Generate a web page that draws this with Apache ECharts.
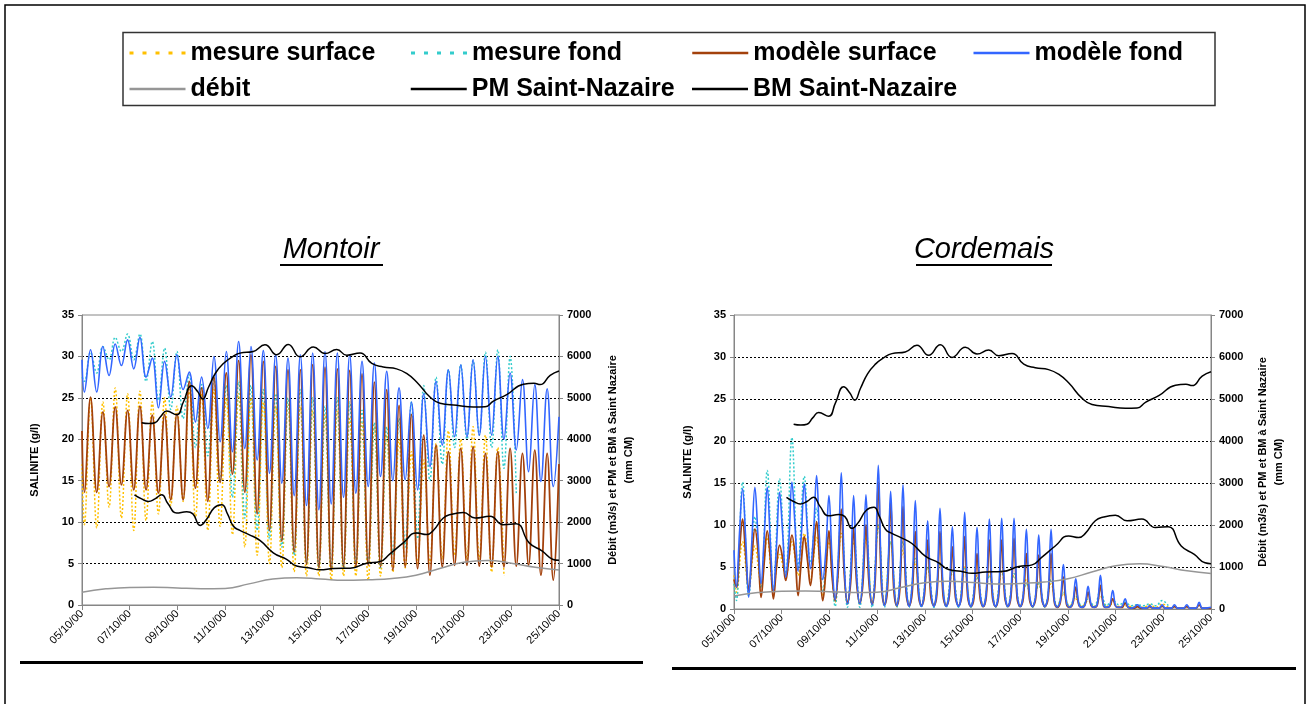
<!DOCTYPE html>
<html>
<head>
<meta charset="utf-8">
<title>Salinité Montoir / Cordemais</title>
<script src="https://cdn.jsdelivr.net/npm/echarts@6/dist/echarts.min.js"></script>
<style>
  html, body { margin: 0; padding: 0; background: #fff; }
  #chart { width: 1310px; height: 704px; }
</style>
</head>
<body>
<div id="chart"></div>
<script>
var FONT = '"Liberation Sans", Arial, sans-serif';

var dateLabels = ['05/10/00', '07/10/00', '09/10/00', '11/10/00', '13/10/00', '15/10/00',
                  '17/10/00', '19/10/00', '21/10/00', '23/10/00', '25/10/00'];

// salinity series are read at every tide extreme (half tide step), first value is day 0, last is day 20
var TIDE_START = 0.10, HALF_TIDE = 0.2587, LAST_DAY = 20;

// ---- Montoir (g/l), one value per half tide
var montoirMesureSurface = [17.0,
  9.7, 25.0, 9.3, 24.5, 11.8, 26.2, 10.5, 25.5,
  9.0, 25.8, 10.2, 24.5, 11.0, 25.0, 12.0, 24.0,
  12.5, 26.0, 10.5, 25.5, 9.0, 26.0, 9.5, 25.0,
  8.5, 25.5, 7.0, 25.0, 6.0, 24.5, 5.0, 24.0,
  4.5, 24.5, 4.0, 24.0, 3.5, 23.5, 3.5, 23.0,
  3.0, 23.5, 3.5, 22.5, 3.5, 22.0, 3.0, 21.5,
  3.5, 20.5, 4.0, 20.0, 4.5, 18.5, 5.0, 17.5,
  5.0, 19.5, 5.5, 21.0, 6.0, 20.0, 5.5, 21.5,
  5.5, 20.5, 4.0, 19.0, 3.5, null, null, null,
  null, null, null, null, null,
  null];
var montoirMesureFond = [27.5,
  27.0, 30.5, 28.0, 31.2, 29.6, 32.3, 30.6, 32.7,
  29.6, 32.7, 27.0, 31.8, 24.7, 31.0, 23.6, 30.6,
  22.5, 27.8, 19.0, 26.6, 18.0, 27.5, 15.0, 26.5,
  13.0, 27.0, 10.5, 26.5, 9.0, 26.0, 8.0, 25.5,
  7.0, 25.0, 6.0, 26.0, 5.0, 25.0, 4.5, 24.0,
  4.5, 25.0, 4.5, 24.5, 5.0, 23.5, 5.0, 22.0,
  4.5, 21.5, 6.0, 22.5, 7.0, 24.5, 8.0, 26.5,
  15.0, 27.5, 17.0, 28.4, 19.0, 29.0, 20.0, 29.5,
  20.5, 30.5, 19.0, 30.8, 16.5, 30.0, 13.5, null,
  null, null, null, null, null,
  null];
var montoirModeleSurface = [21.0,
  13.6, 25.1, 13.6, 23.3, 14.3, 23.9, 14.5, 23.5,
  13.9, 24.0, 13.9, 22.9, 13.5, 23.0, 12.7, 23.1,
  12.7, 27.0, 14.1, 26.2, 12.5, 27.5, 14.8, 28.0,
  15.8, 29.5, 13.6, 30.2, 11.0, 29.4, 9.0, 28.8,
  7.7, 28.4, 6.4, 28.4, 4.9, 29.0, 4.5, 28.7,
  4.2, 28.5, 4.6, 28.3, 4.6, 27.9, 4.8, 26.9,
  4.6, 26.0, 4.2, 24.1, 4.6, 23.0, 4.4, 20.5,
  3.6, 19.3, 4.6, 18.5, 4.8, 18.9, 4.8, 19.1,
  4.7, 18.3, 4.6, 18.5, 4.6, 18.9, 4.7, 18.3,
  4.8, 18.7, 3.6, 18.3, 3.0,
  17.0];
var montoirModeleFond = [29.6,
  25.7, 30.8, 25.7, 31.2, 27.7, 31.5, 28.9, 32.0,
  28.5, 32.3, 27.5, 29.8, 23.8, 29.4, 25.1, 30.2,
  26.0, 28.1, 22.1, 27.5, 21.3, 30.0, 19.7, 30.6,
  18.5, 31.8, 18.9, 31.2, 17.5, 30.7, 15.9, 30.2,
  14.7, 29.8, 13.2, 30.2, 12.0, 30.4, 11.5, 30.6,
  12.2, 30.4, 13.0, 30.2, 13.5, 29.4, 14.3, 29.2,
  15.5, 28.2, 15.0, 26.2, 15.1, 24.5, 13.9, 25.5,
  16.7, 27.0, 19.3, 28.4, 20.3, 29.0, 20.3, 29.6,
  20.5, 30.0, 20.5, 30.0, 20.0, 28.0, 18.7, 27.2,
  16.1, 26.6, 14.9, 26.1, 14.3,
  22.7];

// ---- Cordemais (g/l); modele series read at every quarter tide (trough, rise, peak, fall)
var cordemaisMesureSurface = [4.0,
  2.0, 8.0, 2.5, 7.5, 3.0, 8.5, 2.5, 6.5,
  4.0, 8.0, 4.0, 9.0, 3.5, 8.5, 1.5, 8.0,
  0.8, 9.0, 0.6, 8.0, 0.5, 8.5, 0.5, 10.0,
  0.4, 8.0, 0.3, 7.0, 0.3, 5.5, 0.3, 5.0,
  0.3, 5.5, 0.3, 4.5, 0.3, 5.0, 0.3, 4.0,
  0.3, 4.5, 0.3, 4.5, 0.3, 4.0, 0.3, 3.5,
  0.3, 3.0, 0.3, 3.0, 0.3, 1.8, 0.3, 1.2,
  0.3, 1.0, 0.3, 1.5, 0.3, 0.6, 0.3, 0.4,
  0.3, 0.3, 0.2, 0.5, 0.2, 0.6, 0.2, null,
  null, null, null, null, null,
  null];
var cordemaisMesureFond = [3.0,
  1.0, 15.1, 1.5, 11.0, 2.5, 16.5, 2.0, 15.5,
  4.0, 20.4, 5.0, 15.8, 5.5, 12.0, 2.0, 9.0,
  0.3, 11.0, 0.2, 9.0, 0.2, 9.5, 0.2, 10.0,
  0.2, 8.0, 0.2, 8.0, 0.2, 6.0, 0.2, 5.0,
  0.2, 5.5, 0.2, 4.5, 0.2, 4.8, 0.2, 3.8,
  0.2, 4.0, 0.2, 4.5, 0.2, 4.2, 0.2, 3.0,
  0.2, 3.0, 0.2, 3.5, 0.2, 2.0, 0.3, 1.5,
  0.3, 1.2, 0.3, 2.2, 0.4, 1.0, 0.5, 0.8,
  0.4, 0.5, 0.4, 0.6, 0.4, 1.0, 0.4, null,
  null, null, null, null, null,
  null];
var cordemaisModeleSurface = [3.5,
  2.6, 7.0, 10.7, 6.5,   2.2, 6.0, 9.5, 7.0,   1.4, 5.5, 9.3, 6.0,   1.2, 5.0, 7.6, 6.0,
  3.4, 6.0, 8.8, 6.5,    1.6, 5.5, 8.6, 6.0,   2.8, 6.5, 10.4, 5.5,  1.0, 4.5, 9.3, 4.0,
  1.0, 4.5, 11.9, 4.0,   0.7, 3.0, 9.5, 3.0,   0.7, 3.0, 10.0, 3.0,  0.6, 3.5, 15.1, 3.0,
  0.5, 2.5, 12.8, 2.5,   0.4, 2.5, 12.2, 2.0,  0.4, 2.0, 9.2, 1.8,   0.4, 1.8, 8.2, 1.6,
  0.4, 1.8, 9.2, 1.6,    0.4, 1.5, 7.4, 1.4,   0.4, 1.5, 8.6, 1.4,   0.3, 1.3, 6.6, 1.3,
  0.3, 1.5, 8.2, 1.4,    0.3, 1.5, 8.2, 1.4,   0.3, 1.5, 8.4, 1.3,   0.3, 1.3, 6.6, 1.2,
  0.3, 1.2, 6.4, 1.2,    0.3, 1.2, 6.6, 1.0,   0.2, 0.8, 3.8, 0.6,   0.2, 0.6, 2.6, 0.5,
  0.2, 0.5, 2.0, 0.4,    0.2, 0.5, 2.8, 0.4,   0.2, 0.3, 1.2, 0.3,   0.2, 0.2, 0.7, 0.2,
  0.1, 0.1, 0.3, 0.1,    0.1, 0.1, 0.3, 0.1,   0.1, 0.1, 0.35, 0.1,  0.1, 0.1, 0.3, 0.1,
  0.1, 0.1, 0.3, 0.1,    0.1, 0.1, 0.5, 0.1,
  0.1,
  0.1];
var cordemaisModeleFond = [7.0,
  2.6, 9.0, 14.3, 8.5,   1.4, 8.0, 14.5, 8.7,  3.0, 8.5, 14.5, 8.0,  2.2, 7.5, 13.9, 9.0,
  3.8, 8.0, 15.1, 10.0,  4.5, 8.5, 14.9, 9.5,  4.8, 9.0, 15.9, 8.0,  3.5, 7.0, 13.5, 6.0,
  1.1, 6.0, 16.2, 5.0,   0.6, 4.0, 13.5, 4.0,  0.6, 4.0, 13.6, 4.0,  0.5, 4.5, 17.1, 4.0,
  0.4, 3.5, 14.0, 3.5,   0.4, 3.5, 14.8, 3.0,  0.3, 3.0, 12.9, 2.5,  0.3, 2.5, 10.5, 2.5,
  0.3, 2.5, 12.0, 2.5,   0.3, 2.0, 9.8, 2.0,   0.3, 2.0, 11.5, 2.0,  0.3, 2.0, 9.7, 2.0,
  0.3, 2.0, 10.7, 2.0,   0.3, 2.0, 10.8, 2.0,  0.3, 2.0, 10.8, 1.8,  0.3, 1.8, 9.5, 1.8,
  0.3, 1.6, 8.8, 1.6,    0.3, 1.6, 9.5, 1.2,   0.2, 1.0, 5.3, 0.8,   0.2, 0.7, 3.6, 0.6,
  0.2, 0.5, 2.7, 0.5,    0.2, 0.6, 4.0, 0.5,   0.2, 0.4, 2.2, 0.3,   0.2, 0.3, 1.2, 0.2,
  0.1, 0.2, 0.5, 0.2,    0.1, 0.1, 0.4, 0.1,   0.1, 0.1, 0.5, 0.1,   0.1, 0.1, 0.5, 0.1,
  0.1, 0.1, 0.5, 0.1,    0.1, 0.1, 0.8, 0.1,
  0.1,
  0.2];

// ---- right axis: debit (m3/s, one value per day from 05/10) and Saint-Nazaire tides (mm CM)
var debit = [310, 390, 425, 430, 410, 395, 400, 510, 625, 660, 630,
             595, 610, 640, 720, 880, 1030, 1075, 1010, 910, 845];
var pmDays = [2.5, 2.8, 3.06, 3.3, 3.55, 3.97, 4.25, 4.6, 4.85, 5.06, 5.3, 5.6, 5.93, 6.3,
              6.62, 7.18, 7.67, 8.16, 8.65, 9.14, 9.7, 10.19, 10.68, 11.1, 11.66, 12.15,
              12.63, 13.19, 13.61, 14.03, 14.59, 15.01, 15.71, 16.41, 16.9, 17.25, 17.81,
              18.51, 18.95, 19.21, 19.63, 20.0];
var pmLevels = [4400, 4380, 4400, 4550, 4680, 4590, 4900, 5290, 5150, 4970, 5250, 5600, 5830, 5990,
                6080, 6120, 6280, 6040, 6290, 5990, 6230, 6070, 6165, 6030, 6085, 5830,
                5745, 5700, 5590, 5385, 5020, 4870, 4820, 4780, 4785, 4920, 5080,
                5330, 5350, 5320, 5545, 5650];
var bmDays = [2.2, 2.5, 2.78, 3.06, 3.34, 3.6, 3.97, 4.39, 4.65, 4.95, 5.2, 5.55, 5.86, 6.1,
              6.35, 6.62, 7.0, 7.46, 8.02, 8.58, 9.0, 9.5, 9.98, 10.54, 11.24, 11.94, 12.5,
              12.9, 13.47, 14.03, 14.45, 14.73, 15.15, 15.5, 15.99, 16.48, 17.1, 17.67, 18.2,
              18.75, 19.3, 19.75, 20.0];
var bmLevels = [2660, 2560, 2500, 2560, 2660, 2450, 2220, 2250, 2200, 1920, 2050, 2350, 2420, 2200,
                1900, 1800, 1700, 1560, 1260, 1100, 940, 900, 850, 880, 890, 1010, 1050,
                1230, 1500, 1740, 1700, 1800, 2100, 2190, 2230, 2100, 2140, 1940, 1960,
                1500, 1300, 1100, 1080];

var colors = {
  mesureSurface: '#ffc000',
  mesureFond: '#33cccc',
  modeleSurface: '#a3410c',
  modeleFond: '#3366ff',
  debit: '#969696',
  maree: '#000000'
};

function tidePairs(values, step) {
  var out = [], n = values.length;
  for (var i = 0; i < n; i++) {
    var t = i === 0 ? 0 : (i === n - 1 ? LAST_DAY : TIDE_START + (i - 1) * step);
    out.push([t, values[i]]);
  }
  return out;
}

function zipPairs(days, values) {
  return days.map(function(d, i) { return [d, values[i]]; });
}

function lineSeries(name, grid, right, data, lineStyle, smooth) {
  return {
    type: 'line',
    name: name,
    xAxisIndex: grid,
    yAxisIndex: grid * 2 + (right ? 1 : 0),
    data: data,
    symbol: 'none',
    smooth: smooth,
    itemStyle: { color: lineStyle.color },
    lineStyle: lineStyle,
    emphasis: { disabled: true }
  };
}

function gridSeries(grid, mSurf, mFond, modSurf, modFond, modStep) {
  return [
    lineSeries('mesure surface', grid, false, tidePairs(mSurf, HALF_TIDE),
               { color: colors.mesureSurface, width: 1.5, type: [2, 2] }, 0.4),
    lineSeries('mesure fond', grid, false, tidePairs(mFond, HALF_TIDE),
               { color: colors.mesureFond, width: 1.5, type: [2, 2] }, 0.4),
    lineSeries('modèle surface', grid, false, tidePairs(modSurf, modStep),
               { color: colors.modeleSurface, width: 1.8 }, 0.4),
    lineSeries('modèle fond', grid, false, tidePairs(modFond, modStep),
               { color: colors.modeleFond, width: 1.6 }, 0.4),
    lineSeries('débit', grid, true, debit.map(function(v, d) { return [d, v]; }),
               { color: colors.debit, width: 1.5 }, true),
    lineSeries('PM Saint-Nazaire', grid, true, zipPairs(pmDays, pmLevels),
               { color: colors.maree, width: 1.5 }, true),
    lineSeries('BM Saint-Nazaire', grid, true, zipPairs(bmDays, bmLevels),
               { color: colors.maree, width: 1.5 }, true)
  ];
}

var axisGray = '#868686';
var tickFont = { fontFamily: FONT, fontWeight: 'bold', fontSize: 11, color: '#000' };

function xAxis(grid) {
  return {
    type: 'value', gridIndex: grid, min: 0, max: 20, interval: 2,
    axisLine: { show: true, lineStyle: { color: axisGray } },
    axisTick: { show: true, length: 5, lineStyle: { color: axisGray } },
    axisLabel: {
      rotate: 45, margin: 7, fontFamily: FONT, fontSize: 11, color: '#000',
      formatter: function(v) { return dateLabels[Math.round(v / 2)]; }
    },
    splitLine: { show: false }
  };
}

function leftAxis(grid, gap) {
  return {
    type: 'value', gridIndex: grid, position: 'left', min: 0, max: 35, interval: 5,
    name: 'SALINITE (g/l)', nameLocation: 'middle', nameGap: gap,
    nameTextStyle: tickFont,
    axisLine: { show: true, lineStyle: { color: axisGray } },
    axisTick: { show: true, length: 4, lineStyle: { color: axisGray } },
    axisLabel: Object.assign({ margin: 8 }, tickFont),
    splitLine: {
      show: true, showMinLine: false, showMaxLine: false,
      lineStyle: { color: '#000', width: 1, type: [2, 2] }
    }
  };
}

function rightAxis(grid, gap) {
  return {
    type: 'value', gridIndex: grid, position: 'right', min: 0, max: 7000, interval: 1000,
    name: 'Débit (m3/s) et PM et BM à Saint Nazaire\n(mm CM)',
    nameLocation: 'middle', nameGap: gap,
    nameTextStyle: Object.assign({ lineHeight: 16, align: 'center' }, tickFont),
    axisLine: { show: true, lineStyle: { color: axisGray } },
    axisTick: { show: true, length: 4, lineStyle: { color: axisGray } },
    axisLabel: Object.assign({ margin: 8, formatter: function(v) { return String(v); } }, tickFont),
    splitLine: { show: false }
  };
}

function legendItem(name, color, type, width) {
  return { name: name, lineStyle: { color: color, width: width, type: type } };
}

var chart = echarts.init(document.getElementById('chart'), null, { renderer: 'canvas' });

var option = {
  animation: false,
  backgroundColor: '#fff',
  legend: {
    left: 128, top: 35, width: 1140, padding: 0,
    itemWidth: 56, itemHeight: 12, itemGap: 0,
    selectedMode: false,
    itemStyle: { opacity: 0 },
    textStyle: {
      fontFamily: FONT, fontWeight: 'bold', fontSize: 25, color: '#000',
      width: 219, lineHeight: 36
    },
    data: [
      legendItem('mesure surface', colors.mesureSurface, [4, 9], 3),
      legendItem('mesure fond', colors.mesureFond, [4, 9], 3),
      legendItem('modèle surface', colors.modeleSurface, 'solid', 2.5),
      legendItem('modèle fond', colors.modeleFond, 'solid', 2.5),
      legendItem('débit', colors.debit, 'solid', 2.5),
      legendItem('PM Saint-Nazaire', colors.maree, 'solid', 2.5),
      legendItem('BM Saint-Nazaire', colors.maree, 'solid', 2.5)
    ]
  },
  grid: [
    { left: 82, top: 315, width: 477, height: 290, show: true, borderColor: axisGray, borderWidth: 1 },
    { left: 734, top: 315, width: 477, height: 294, show: true, borderColor: axisGray, borderWidth: 1 }
  ],
  xAxis: [xAxis(0), xAxis(1)],
  yAxis: [leftAxis(0, 42), rightAxis(0, 46), leftAxis(1, 41), rightAxis(1, 44)],
  series: [].concat(
    gridSeries(0, montoirMesureSurface, montoirMesureFond, montoirModeleSurface, montoirModeleFond, HALF_TIDE),
    gridSeries(1, cordemaisMesureSurface, cordemaisMesureFond, cordemaisModeleSurface, cordemaisModeleFond, HALF_TIDE / 2)
  ),
  graphic: [
    { type: 'rect', silent: true, shape: { x: 5, y: 5, width: 1300, height: 720 },
      style: { fill: 'none', stroke: '#000', lineWidth: 1.5 } },
    { type: 'rect', silent: true, shape: { x: 123, y: 32.5, width: 1092, height: 73 },
      style: { fill: 'none', stroke: '#333', lineWidth: 1.5 } },
    { type: 'text', silent: true, x: 331, y: 250,
      style: { text: 'Montoir', fill: '#000', font: 'italic 29px ' + FONT, align: 'center', verticalAlign: 'middle' } },
    { type: 'line', silent: true, shape: { x1: 280, y1: 265, x2: 383, y2: 265 },
      style: { stroke: '#000', lineWidth: 2 } },
    { type: 'text', silent: true, x: 984, y: 250,
      style: { text: 'Cordemais', fill: '#000', font: 'italic 29px ' + FONT, align: 'center', verticalAlign: 'middle' } },
    { type: 'line', silent: true, shape: { x1: 916, y1: 265, x2: 1052, y2: 265 },
      style: { stroke: '#000', lineWidth: 2 } },
    { type: 'line', silent: true, shape: { x1: 20, y1: 662.5, x2: 643, y2: 662.5 },
      style: { stroke: '#000', lineWidth: 3 } },
    { type: 'line', silent: true, shape: { x1: 672, y1: 668.5, x2: 1296, y2: 668.5 },
      style: { stroke: '#000', lineWidth: 3 } }
  ]
};

chart.setOption(option);
</script>
</body>
</html>
